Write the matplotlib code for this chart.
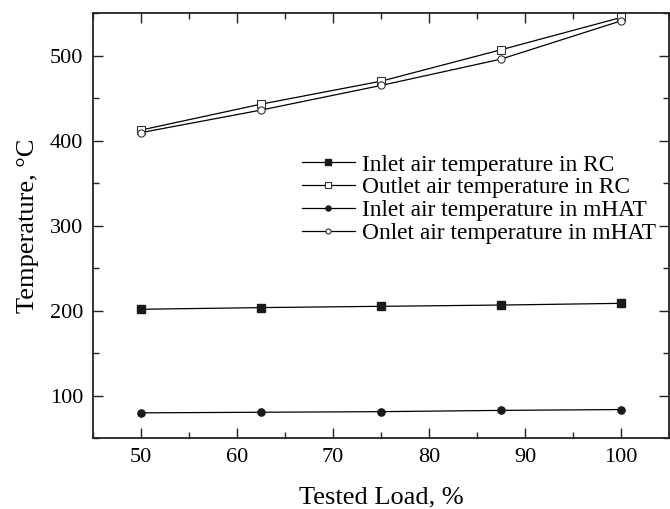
import matplotlib
matplotlib.use("Agg")
import matplotlib.pyplot as plt
from matplotlib.ticker import MultipleLocator

plt.rcParams['font.family'] = ['Liberation Serif', 'DejaVu Serif']
plt.rcParams['mathtext.fontset'] = 'stix'

load = [50, 62.5, 75, 87.5, 100]
inlet_rc = [201.5, 203.5, 205, 206.5, 208.5]
outlet_rc = [412.5, 443, 470, 507, 545]
inlet_mhat = [79.6, 80.3, 81, 82.5, 83.5]
outlet_mhat = [409.5, 436, 465, 496, 541]

labels = ["Inlet air temperature in RC",
          "Outlet air temperature in RC",
          "Inlet air temperature in mHAT",
          "Onlet air temperature in mHAT"]

fig = plt.figure(figsize=(6.70, 5.09), dpi=100)
ax = fig.add_axes([0.139, 0.1395, 0.8595, 0.8345])

lw = 0.9
ms = 5.2
ax.plot(load, inlet_rc, color='black', lw=lw, marker='s', ms=ms,
        mfc='#1a1a1a', mec='#1a1a1a', label=labels[0])
ax.plot(load, outlet_rc, color='black', lw=lw, marker='s', ms=ms,
        mfc='white', mec='#333333', mew=0.8, label=labels[1])
ax.plot(load, inlet_mhat, color='black', lw=lw, marker='o', ms=ms,
        mfc='#1a1a1a', mec='#1a1a1a', label=labels[2])
ax.plot(load, outlet_mhat, color='black', lw=lw, marker='o', ms=ms,
        mfc='white', mec='#333333', mew=0.8, label=labels[3])

ax.set_xlim(45, 105)
ax.set_ylim(50, 550)
ax.xaxis.set_minor_locator(MultipleLocator(5))
ax.yaxis.set_minor_locator(MultipleLocator(50))
ax.set_xticks([50, 60, 70, 80, 90, 100])
ax.set_yticks([100, 200, 300, 400, 500])

ax.tick_params(which='both', direction='in', top=True, right=True,
               labelsize=16, width=1.0, color='#222222')
ax.tick_params(which='major', length=7, pad=7)
ax.tick_params(which='minor', length=4)
for s in ax.spines.values():
    s.set_linewidth(1.3)
    s.set_color('#222222')

ax.set_xlabel("Tested Load, %", fontsize=19, labelpad=14)
ax.set_ylabel("Temperature, \u00b0C", fontsize=19, labelpad=8)

leg = ax.legend(loc='upper left', bbox_to_anchor=(0.362, 0.668),
                frameon=False, fontsize=16.8, handlelength=2.3,
                handletextpad=0.3, labelspacing=0.06, borderpad=0,
                borderaxespad=0, markerscale=0.7)

fig.savefig("out.png", dpi=100)
